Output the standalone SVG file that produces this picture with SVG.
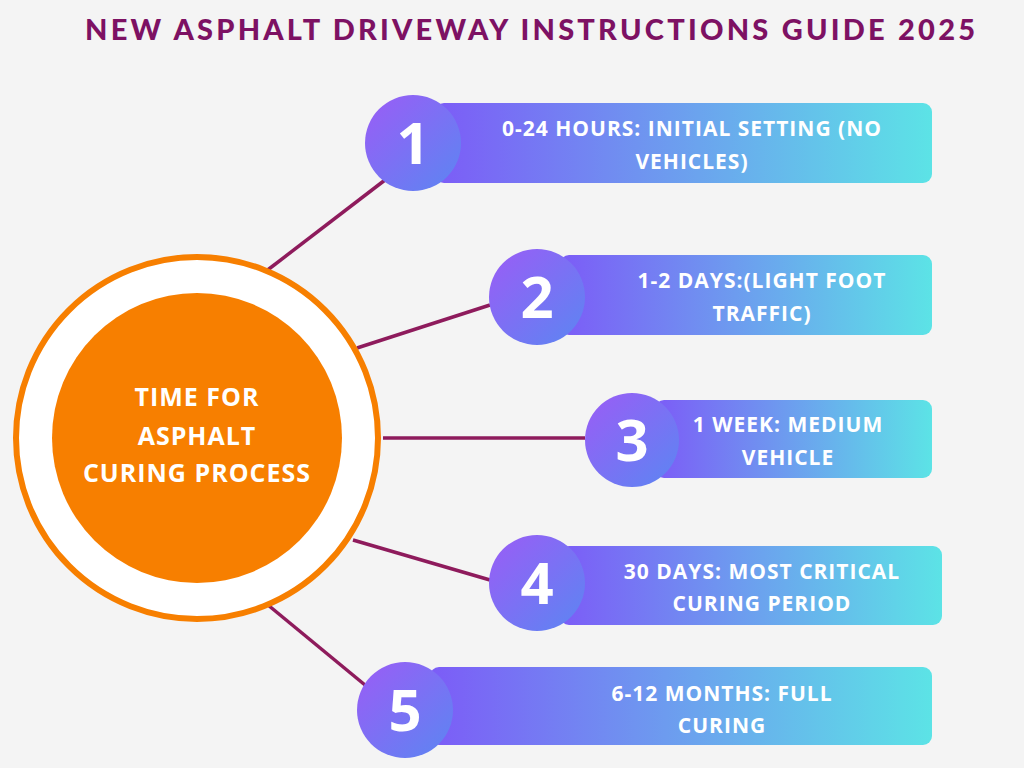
<svg xmlns="http://www.w3.org/2000/svg" width="1024" height="768" viewBox="0 0 1024 768">
<defs>
<linearGradient id="bar" x1="0" y1="0" x2="1" y2="0"><stop offset="0" stop-color="#7C5CF7"/><stop offset="1" stop-color="#5CE3E6"/></linearGradient>
<linearGradient id="num" x1="0" y1="0" x2="1" y2="1"><stop offset="0" stop-color="#9B5CF6"/><stop offset="1" stop-color="#5B86F2"/></linearGradient>
<style>
.t{font-family:"Open Sans","Liberation Sans",sans-serif;font-weight:700;fill:#fff;text-anchor:middle}
.bt{font-size:21px;letter-spacing:1px}
.n{font-size:58px}
.c{stroke:#8E1B5C;stroke-width:3.5;fill:none}
</style>
</defs>
<rect width="1024" height="768" fill="#F4F4F4"/>
<text x="530" y="40" font-family="Lato,'Liberation Sans',sans-serif" font-weight="900" font-size="29" fill="#7D1163" text-anchor="middle" textLength="890" lengthAdjust="spacing">NEW ASPHALT DRIVEWAY INSTRUCTIONS GUIDE 2025</text>
<g id="connectors">
<line class="c" x1="265" y1="272" x2="385" y2="180"/>
<line class="c" x1="357" y1="348" x2="490" y2="305"/>
<line class="c" x1="383" y1="438" x2="585" y2="438"/>
<line class="c" x1="353" y1="540" x2="490" y2="580"/>
<line class="c" x1="268" y1="605" x2="365" y2="685"/>
</g>
<g id="center">
<circle cx="197" cy="438" r="181" fill="#fff" stroke="#F77F00" stroke-width="6"/>
<circle cx="197" cy="438" r="145" fill="#F77F00"/>
<text class="t" font-size="25" letter-spacing="1"><tspan x="197" y="406">TIME FOR</tspan><tspan x="197" y="445">ASPHALT</tspan><tspan x="197" y="482">CURING PROCESS</tspan></text>
</g>
<g id="step1"><rect x="435" y="103" width="497" height="80" rx="9" fill="url(#bar)"/><circle cx="413" cy="143" r="48" fill="url(#num)"/><text class="t n" x="413" y="164">1</text><text class="t bt"><tspan x="692" y="136">0-24 HOURS: INITIAL SETTING (NO</tspan><tspan x="692" y="169">VEHICLES)</tspan></text></g>
<g id="step2"><rect x="560" y="255" width="372" height="80" rx="9" fill="url(#bar)"/><circle cx="537" cy="297" r="48" fill="url(#num)"/><text class="t n" x="537" y="318">2</text><text class="t bt"><tspan x="762" y="288">1-2 DAYS:(LIGHT FOOT</tspan><tspan x="762" y="321">TRAFFIC)</tspan></text></g>
<g id="step3"><rect x="655" y="400" width="277" height="78" rx="9" fill="url(#bar)"/><circle cx="632" cy="440" r="47" fill="url(#num)"/><text class="t n" x="632" y="461">3</text><text class="t bt"><tspan x="788" y="432">1 WEEK: MEDIUM</tspan><tspan x="788" y="465">VEHICLE</tspan></text></g>
<g id="step4"><rect x="560" y="546" width="382" height="79" rx="9" fill="url(#bar)"/><circle cx="537" cy="583" r="48" fill="url(#num)"/><text class="t n" x="537" y="604">4</text><text class="t bt"><tspan x="762" y="579">30 DAYS: MOST CRITICAL</tspan><tspan x="762" y="611">CURING PERIOD</tspan></text></g>
<g id="step5"><rect x="430" y="667" width="502" height="78" rx="9" fill="url(#bar)"/><circle cx="405" cy="710" r="48" fill="url(#num)"/><text class="t n" x="405" y="731">5</text><text class="t bt"><tspan x="722" y="701">6-12 MONTHS: FULL</tspan><tspan x="722" y="733">CURING</tspan></text></g>
</svg>
